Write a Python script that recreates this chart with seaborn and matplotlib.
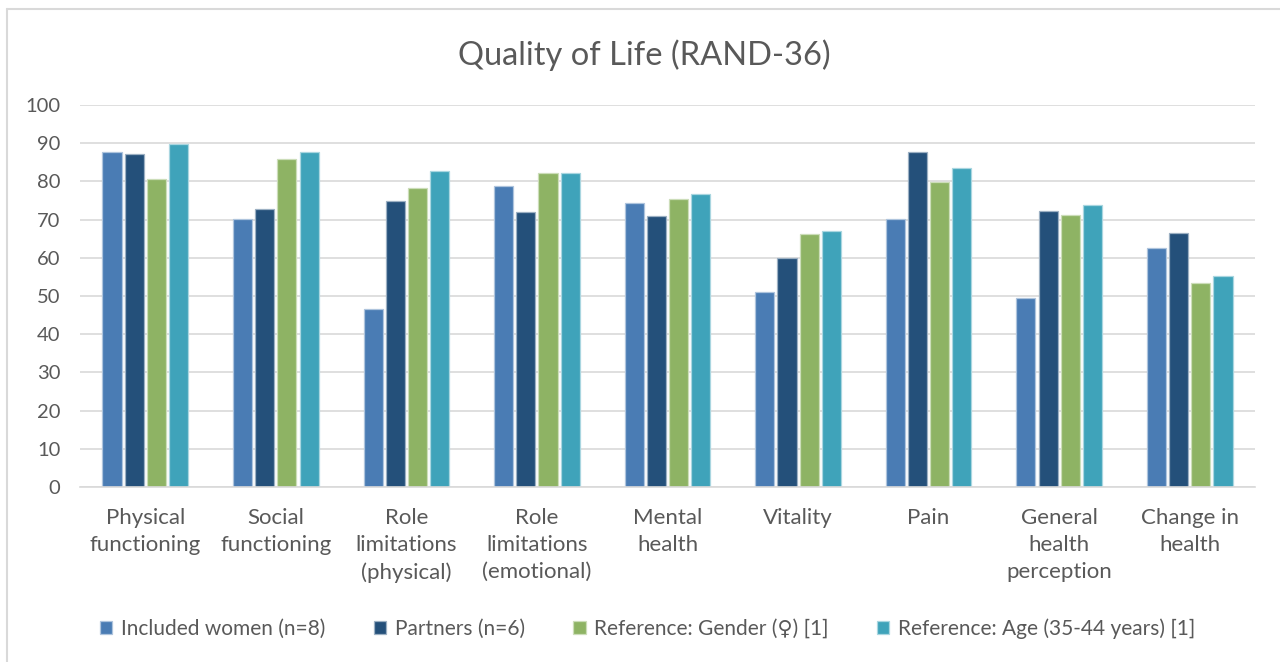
import matplotlib
matplotlib.use("Agg")
import matplotlib.pyplot as plt
import matplotlib.colors as mcolors
from matplotlib.lines import Line2D
import seaborn as sns
import pandas as pd

categories = ["Physical\nfunctioning", "Social\nfunctioning", "Role\nlimitations\n(physical)",
              "Role\nlimitations\n(emotional)", "Mental\nhealth", "Vitality", "Pain",
              "General\nhealth\nperception", "Change in\nhealth"]
series_names = ["Included women (n=8)", "Partners (n=6)",
                "Reference: Gender (\u2640) [1]", "Reference: Age (35-44 years) [1]"]
women = [87.7, 70.1, 46.6, 78.9, 74.3, 51.0, 70.1, 49.5, 62.5]
partners = [87.3, 72.7, 75.0, 72.0, 71.0, 60.0, 87.7, 72.3, 66.4]
ref_gender = [80.5, 85.8, 78.2, 82.1, 75.3, 66.1, 79.9, 71.3, 53.3]
ref_age = [89.7, 87.7, 82.8, 82.1, 76.6, 67.1, 83.4, 73.9, 55.2]
colors = ["#4A7CB4", "#24507A", "#8EB364", "#3FA3BA"]
y_ticks = list(range(0, 101, 10))

rows = []
for name, vals in zip(series_names, [women, partners, ref_gender, ref_age]):
    for c, v in zip(categories, vals):
        rows.append({"category": c, "series": name, "value": v})
df = pd.DataFrame(rows)

sns.set_style("white")
plt.rcParams["font.family"] = ["Lato", "DejaVu Sans"]

fig = plt.figure(figsize=(12.8, 6.62), dpi=100)
ax = fig.add_axes([80 / 1280, 1 - 487 / 662, (1255 - 80) / 1280, (487 - 105) / 662])

sns.barplot(data=df, x="category", y="value", hue="series", order=categories,
            hue_order=series_names, palette=colors, width=0.68, gap=0.14,
            saturation=1, ax=ax, legend=True)

for p in ax.patches:
    fc = mcolors.to_rgb(p.get_facecolor())
    light = tuple(c + (1 - c) * 0.55 for c in fc)
    p.set_edgecolor(light)
    p.set_linewidth(0.9)

ax.set_ylim(0, 100)
ax.set_yticks(y_ticks)
ax.set_xlabel("")
ax.set_ylabel("")
ax.yaxis.grid(True, color="#D9D9D9", linewidth=1.2)
ax.set_axisbelow(True)
for s in ["left", "right", "top"]:
    ax.spines[s].set_visible(False)
ax.spines["bottom"].set_color("#D9D9D9")
ax.spines["bottom"].set_linewidth(1.2)
ax.tick_params(axis="both", length=0, colors="#595959")
ax.tick_params(axis="y", pad=14, labelsize=14.5)
ax.tick_params(axis="x", pad=15, labelsize=16)
for t in ax.get_xticklabels():
    t.set_linespacing(1.45)
    t.set_va("top")

handles, labels = ax.get_legend_handles_labels()
ax.get_legend().remove()
fig.legend(handles, labels, loc="center", bbox_to_anchor=(0.506, 0.051), ncol=4,
           frameon=False, fontsize=15, labelcolor="#595959", handlelength=0.6,
           handleheight=0.6, handletextpad=0.43, columnspacing=2.3)

fig.text(644 / 1280, 1 - 55 / 662, "Quality of Life (RAND-36)", ha="center", va="center",
         fontsize=23.5, color="#595959")

fig.add_artist(Line2D([7 / 1280, 7 / 1280], [0, 1 - 9 / 662], transform=fig.transFigure,
                      color="#D9D9D9", linewidth=1.5))
fig.add_artist(Line2D([7 / 1280, 1], [1 - 9 / 662, 1 - 9 / 662], transform=fig.transFigure,
                      color="#D9D9D9", linewidth=1.5))

fig.savefig("out.png", dpi=100)
